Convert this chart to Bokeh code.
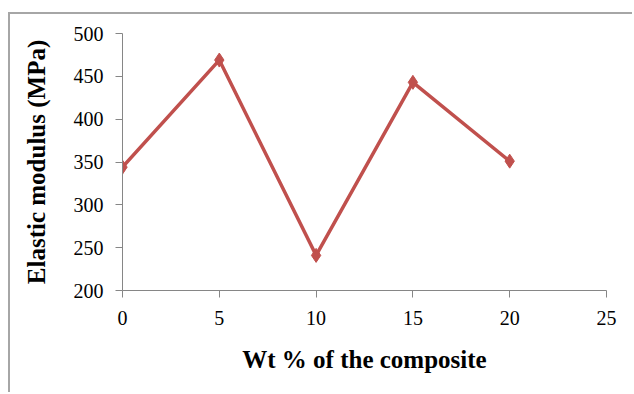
from bokeh.plotting import figure
from bokeh.models import FixedTicker, Range1d
from bokeh.embed import file_html
from bokeh.resources import INLINE

wt_percent = [0, 5, 10, 15, 20]
elastic_modulus = [344, 469, 241, 443, 351]
x_ticks = [0, 5, 10, 15, 20, 25]
y_ticks = [200, 250, 300, 350, 400, 450, 500]

p = figure(width=624, height=380, output_backend="svg", toolbar_location=None,
           x_range=Range1d(0, 25), y_range=Range1d(200, 500),
           min_border_left=112, min_border_right=28, min_border_top=19, min_border_bottom=104)
p.margin = (12, 0, 0, 8)
p.styles = {"border-top": "2px solid #a6a6a6", "border-left": "2px solid #a6a6a6"}
p.outline_line_color = None
p.xgrid.visible = False
p.ygrid.visible = False
p.background_fill_color = "white"
p.border_fill_color = "white"

red = "#C0504D"
p.line(wt_percent, elastic_modulus, line_color=red, line_width=3.5)
p.scatter(wt_percent, elastic_modulus, marker="diamond", size=14, fill_color=red, line_color=red)

axis_gray = "#868686"
for ax in (p.xaxis[0], p.yaxis[0]):
    ax.axis_line_color = axis_gray
    ax.major_tick_line_color = axis_gray
    ax.minor_tick_line_color = None
    ax.major_tick_out = 7
    ax.major_tick_in = 0
    ax.major_label_text_font = "Liberation Serif"
    ax.major_label_text_font_size = "20px"
    ax.major_label_text_color = "black"
    ax.axis_label_text_font = "Liberation Serif"
    ax.axis_label_text_font_style = "bold"
    ax.axis_label_text_font_size = "25px"
    ax.axis_label_text_color = "black"

p.xaxis[0].ticker = FixedTicker(ticks=x_ticks)
p.yaxis[0].ticker = FixedTicker(ticks=y_ticks)
p.xaxis[0].axis_label = "Wt % of the composite"
p.yaxis[0].axis_label = "Elastic modulus (MPa)"
p.xaxis[0].major_label_standoff = 13
p.yaxis[0].major_label_standoff = 12
p.xaxis[0].axis_label_standoff = 18
p.yaxis[0].axis_label_standoff = 21

open("out.html", "w").write(file_html(p, INLINE))
